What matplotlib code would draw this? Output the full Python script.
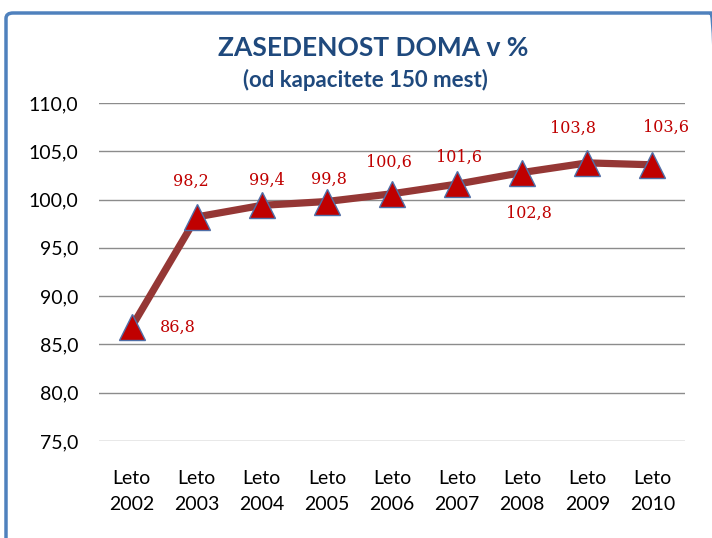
import matplotlib
matplotlib.use("Agg")
import matplotlib.pyplot as plt
from matplotlib.patches import FancyBboxPatch

categories = ["Leto\n2002", "Leto\n2003", "Leto\n2004", "Leto\n2005", "Leto\n2006",
              "Leto\n2007", "Leto\n2008", "Leto\n2009", "Leto\n2010"]
values = [86.8, 98.2, 99.4, 99.8, 100.6, 101.6, 102.8, 103.8, 103.6]
value_labels = ["86,8", "98,2", "99,4", "99,8", "100,6", "101,6", "102,8", "103,8", "103,6"]
yticks = [75, 80, 85, 90, 95, 100, 105, 110]
ytick_labels = ["75,0", "80,0", "85,0", "90,0", "95,0", "100,0", "105,0", "110,0"]

W, H = 712, 538
fig = plt.figure(figsize=(W / 100, H / 100), dpi=100)
fig.patch.set_facecolor("white")

# frame
border = FancyBboxPatch((6 / W, -0.1), 1.0, 1 - 13 / H + 0.1,
                        boxstyle="round,pad=0,rounding_size=0.01",
                        transform=fig.transFigure, fill=False,
                        edgecolor="#4F81BD", linewidth=2.5, clip_on=False)
fig.patches.append(border)

left, right = 99, 685
top, bottom = 103, 441
ax = fig.add_axes([left / W, 1 - bottom / H, (right - left) / W, (bottom - top) / H])
ax.set_facecolor("none")

x = list(range(len(values)))
ax.plot(x, values, color="#953735", linewidth=5.2, solid_capstyle="round", zorder=2)
ax.plot(x, values, linestyle="none", marker="^", markersize=19,
        markerfacecolor="#C00000", markeredgecolor="#4F6FA8", markeredgewidth=1.0, zorder=3)

ax.set_xlim(-0.5, len(values) - 0.5)
ax.set_ylim(75, 110)
ax.set_yticks(yticks)
ax.set_yticklabels(ytick_labels)
ax.set_xticks(x)
ax.set_xticklabels(categories, linespacing=1.65)
ax.yaxis.grid(True, color="#8C8C8C", linewidth=1.0)
ax.set_axisbelow(True)
for s in ax.spines.values():
    s.set_visible(False)
ax.tick_params(axis="both", length=0, labelsize=14, colors="#000000")
ax.tick_params(axis="y", pad=15)
ax.tick_params(axis="x", pad=21)
for lab in ax.get_xticklabels() + ax.get_yticklabels():
    lab.set_fontfamily(["Lato", "DejaVu Sans"])

# label offsets in pixels (dx right, dy up)
offsets = [(46, 0), (-6, 36), (5, 25), (2, 22), (-3, 31), (2, 27), (7, -41), (-14, 35), (14, 37)]
for xi, v, lab, (dx, dy) in zip(x, values, value_labels, offsets):
    ax.annotate(lab, (xi, v), xytext=(dx * 0.72, dy * 0.72), textcoords="offset points",
                ha="center", va="center", fontsize=11.5, color="#C00000",
                fontfamily=["DejaVu Serif"])

fig.text(373 / W, 1 - 48 / H, "ZASEDENOST DOMA v %", ha="center", va="center",
         fontsize=19, fontweight="bold", color="#1F497D", fontfamily=["Lato", "DejaVu Sans"])
fig.text(365 / W, 1 - 80 / H, "(od kapacitete 150 mest)", ha="center", va="center",
         fontsize=16, fontweight="bold", color="#1F497D", fontfamily=["Lato", "DejaVu Sans"])

fig.savefig("out.png", dpi=100)
